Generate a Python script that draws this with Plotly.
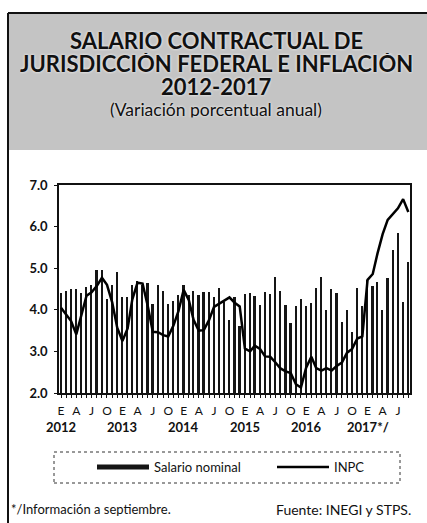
import plotly.graph_objects as go
import pandas as pd

# monthly series, Jan 2012 - Sep 2017
months = pd.date_range("2012-01-01", periods=69, freq="MS")

salario_nominal = [
    4.40, 4.45, 4.50, 4.50, 4.40, 4.55, 4.60, 4.95, 4.95, 4.25, 4.60, 4.90,  # 2012
    4.30, 4.30, 4.60, 4.70, 4.60, 4.65, 4.15, 4.60, 4.45, 4.15, 4.20, 4.35,  # 2013
    4.60, 4.35, 4.45, 4.35, 4.43, 4.43, 4.30, 4.52, 4.19, 3.76, 4.31, 3.60,  # 2014
    4.38, 4.40, 4.33, 4.12, 4.43, 4.38, 4.79, 4.45, 4.12, 3.68, 4.08, 4.27,  # 2015
    4.08, 4.17, 4.53, 4.79, 4.00, 4.49, 4.41, 3.70, 4.00, 3.47, 4.52, 4.08,  # 2016
    4.72, 4.57, 4.68, 4.00, 4.76, 5.44, 5.84, 4.19, 5.16,                    # 2017
]
inpc = [
    4.05, 3.87, 3.73, 3.41, 3.85, 4.34, 4.42, 4.57, 4.77, 4.60, 4.18, 3.57,
    3.25, 3.55, 4.25, 4.65, 4.63, 4.09, 3.47, 3.46, 3.39, 3.36, 3.62, 3.97,
    4.48, 4.23, 3.76, 3.50, 3.51, 3.75, 4.07, 4.15, 4.22, 4.30, 4.17, 4.08,
    3.07, 3.00, 3.14, 3.06, 2.88, 2.87, 2.74, 2.59, 2.52, 2.48, 2.21, 2.13,
    2.61, 2.87, 2.60, 2.54, 2.60, 2.54, 2.65, 2.73, 2.97, 3.06, 3.31, 3.36,
    4.72, 4.86, 5.35, 5.82, 6.16, 6.31, 6.44, 6.66, 6.35,
]
month_letters = ["E", "F", "M", "A", "M", "J", "J", "A", "S", "O", "N", "D"]
shown_months = [1, 4, 7, 10]
year_labels = ["2012", "2013", "2014", "2015", "2016", "2017*/"]

FONT = "Lato"
W, H = 427, 523
L, R, T, B = 59, 410, 185, 393   # plot area in pixels


def px(x):
    return (x - L) / (R - L)


def py(y):
    return (B - y) / (B - T)


ticktext = [month_letters[m.month - 1] if m.month in shown_months else "" for m in months]

fig = go.Figure()
fig.add_trace(go.Bar(x=months, y=salario_nominal, name="Salario nominal",
                     marker=dict(color="#151515", line=dict(width=0)),
                     width=10 * 24 * 3600 * 1000, showlegend=False))
# legend swatch for the bars (drawn as a thick line, like the original)
fig.add_trace(go.Scatter(x=[None], y=[None], mode="lines", name="Salario nominal",
                         line=dict(color="#151515", width=5), legend="legend"))
fig.add_trace(go.Scatter(x=months, y=inpc, mode="lines", name="INPC",
                         line=dict(color="#000000", width=2.5), legend="legend2"))

annotations = []
title_lines = [("<b>SALARIO CONTRACTUAL DE</b>", 40, 22),
               ("<b>JURISDICCIÓN FEDERAL E INFLACIÓN</b>", 63.5, 22),
               ("<b>2012-2017</b>", 87, 22),
               ("(Variación porcentual anual)", 109, 17.5)]
for txt, y, size in title_lines:
    annotations.append(dict(text=txt, x=px(216), y=py(y), xref="paper", yref="paper",
                            xanchor="center", yanchor="middle", showarrow=False,
                            height=size - 1, valign="middle",
                            font=dict(family=FONT, size=size, color="#111",
                                      shadow="0px 0px 3px #ffffff")))
for yr in year_labels:
    annotations.append(dict(text=yr, x=f"{yr[:4]}-01-01", y=py(427), xref="x", yref="paper",
                            xanchor="center", yanchor="middle", showarrow=False,
                            font=dict(family=FONT, size=13, color="#111", weight="bold")))
annotations.append(dict(text="*/Información a septiembre.", x=px(9), y=py(509),
                        xref="paper", yref="paper", xanchor="left", yanchor="middle",
                        showarrow=False, font=dict(family=FONT, size=13, color="#111")))
annotations.append(dict(text="Fuente: INEGI y STPS.", x=px(413), y=py(509),
                        xref="paper", yref="paper", xanchor="right", yanchor="middle",
                        showarrow=False, font=dict(family=FONT, size=14, color="#111")))

shapes = [
    # grey title box
    dict(type="rect", xref="paper", yref="paper", x0=px(8), x1=px(430), y0=py(150), y1=py(13),
         fillcolor="#c4c4c4", line=dict(width=0), layer="below"),
    dict(type="line", xref="paper", yref="paper", x0=px(8), x1=px(430), y0=py(13), y1=py(13),
         line=dict(color="#111", width=2)),
    dict(type="line", xref="paper", yref="paper", x0=px(8), x1=px(8), y0=py(13), y1=py(530),
         line=dict(color="#111", width=2)),
    # dotted legend frame
    dict(type="rect", xref="paper", yref="paper", x0=px(54), x1=px(400), y0=py(483), y1=py(452),
         line=dict(color="#333", width=1, dash="dot")),
]

legend_style = dict(orientation="h", yanchor="middle", xanchor="left", itemwidth=52,
                    font=dict(family=FONT, size=13, color="#111"), bgcolor="rgba(0,0,0,0)")

fig.update_layout(
    width=W, height=H,
    margin=dict(l=L, r=W - R, t=T, b=H - B, autoexpand=False),
    paper_bgcolor="white", plot_bgcolor="white",
    font=dict(family=FONT, color="#111"),
    bargap=0,
    annotations=annotations,
    shapes=shapes,
    legend=dict(legend_style, x=px(92), y=py(467)),
    legend2=dict(legend_style, x=px(272), y=py(467)),
    xaxis=dict(range=["2011-12-20", "2017-09-11"], tickvals=months, ticktext=ticktext,
               ticks="outside", ticklen=3, tickcolor="#111", tickwidth=1,
               ticklabelstandoff=3,
               showline=True, mirror=True, linecolor="#111", linewidth=1.5,
               showgrid=False, zeroline=False,
               tickfont=dict(family=FONT, size=12, color="#111")),
    yaxis=dict(range=[2, 7], dtick=1, tickformat=".1f",
               ticks="outside", ticklen=3, tickcolor="#111",
               ticklabelstandoff=4,
               showline=True, mirror=True, linecolor="#111", linewidth=1.5,
               showgrid=False, zeroline=False,
               tickfont=dict(family=FONT, size=13, color="#111", weight="bold")),
)

fig.write_html("out.html", config={"displayModeBar": False},
               post_script="document.body.style.margin='0';")
